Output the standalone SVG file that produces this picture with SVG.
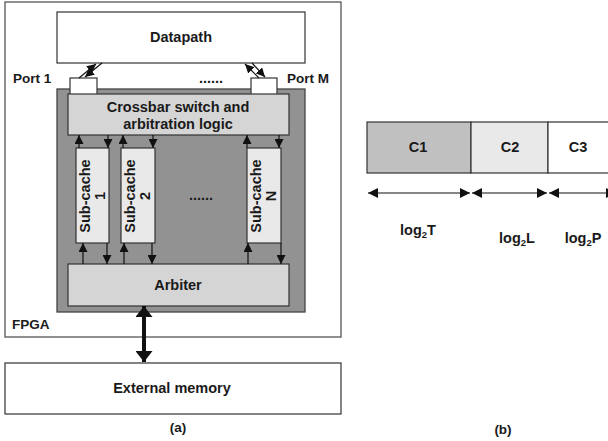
<svg xmlns="http://www.w3.org/2000/svg" width="608" height="441" viewBox="0 0 608 441">
<defs>
<marker id="ah" viewBox="0 0 10 10" refX="10" refY="5" markerWidth="9" markerHeight="9" markerUnits="userSpaceOnUse" orient="auto-start-reverse">
<path d="M0,0 L10,5 L0,10 z" fill="#111"/>
</marker>
<marker id="ah2" viewBox="0 0 10 10" refX="10" refY="5" markerWidth="10" markerHeight="10" markerUnits="userSpaceOnUse" orient="auto-start-reverse">
<path d="M0,0 L10,5 L0,10 z" fill="#111"/>
</marker>
<marker id="big" viewBox="0 0 10 10" refX="10" refY="5" markerWidth="11" markerHeight="17" markerUnits="userSpaceOnUse" orient="auto-start-reverse" preserveAspectRatio="none">
<path d="M0,0 L10,5 L0,10 z" fill="#111"/>
</marker>
<style>
text{font-family:"Liberation Sans",Arial,sans-serif;font-weight:bold;fill:#1a1a1a;}
.t14{font-size:14.5px;}
.t13{font-size:13.5px;}
.box{stroke:#333;stroke-width:1.2;}
.ln{stroke:#111;stroke-width:1.2;fill:none;}
</style>
</defs>

<g id="fpga">
<rect x="5" y="2" width="336" height="335" fill="#fff" stroke="#555" stroke-width="1.3"/>
<text class="t13" x="12" y="329">FPGA</text>
</g>

<g id="datapath">
<rect class="box" x="57" y="12" width="248" height="51" fill="#fff"/>
<text class="t14" x="181" y="42" text-anchor="middle">Datapath</text>
</g>

<g id="cachearray">
<rect x="57" y="89" width="248" height="223" fill="#929292" stroke="#444" stroke-width="1.3"/>
<text class="t14" x="201" y="200" text-anchor="middle">......</text>
</g>

<g id="port1">
<rect class="box" x="70" y="78" width="27" height="18" fill="#fff"/>
<text class="t13" x="13" y="83">Port 1</text>
</g>
<g id="portM">
<rect class="box" x="251" y="78" width="26" height="18" fill="#fff"/>
<text class="t13" x="287" y="83">Port M</text>
</g>
<g id="portdots">
<text class="t14" x="211" y="83" text-anchor="middle">......</text>
</g>

<g id="crossbar">
<rect class="box" x="68" y="94" width="221" height="41" fill="#d5d5d5"/>
<text class="t14" x="178" y="112" text-anchor="middle">Crossbar switch and</text>
<text class="t14" x="178" y="129" text-anchor="middle">arbitration logic</text>
</g>

<g id="subcache1">
<rect class="box" x="76" y="148" width="33" height="95" fill="#e9e9e9"/>
<text class="t14" transform="translate(92.5,196) rotate(-90)" text-anchor="middle" y="-3">Sub-cache</text>
<text class="t14" transform="translate(92.5,196) rotate(-90)" text-anchor="middle" y="12">1</text>
</g>
<g id="subcache2">
<rect class="box" x="121" y="148" width="34" height="95" fill="#e9e9e9"/>
<text class="t14" transform="translate(138,196) rotate(-90)" text-anchor="middle" y="-3">Sub-cache</text>
<text class="t14" transform="translate(138,196) rotate(-90)" text-anchor="middle" y="12">2</text>
</g>
<g id="subcacheN">
<rect class="box" x="247" y="148" width="34" height="95" fill="#e9e9e9"/>
<text class="t14" transform="translate(264,196) rotate(-90)" text-anchor="middle" y="-3">Sub-cache</text>
<text class="t14" transform="translate(264,196) rotate(-90)" text-anchor="middle" y="12">N</text>
</g>

<g id="arbiter">
<rect class="box" x="68" y="264" width="221" height="42" fill="#d5d5d5"/>
<text class="t14" x="178" y="290" text-anchor="middle">Arbiter</text>
</g>

<g id="extmem">
<rect class="box" x="5" y="363" width="336" height="51" fill="#fff"/>
<text class="t14" x="172" y="393" text-anchor="middle">External memory</text>
</g>

<g id="captionA"><text class="t13" x="178" y="432" text-anchor="middle">(a)</text></g>
<g id="captionB"><text class="t13" x="503" y="434" text-anchor="middle">(b)</text></g>

<g id="addr">
<rect x="367" y="122" width="104" height="51" fill="#c0c0c0" stroke="#333" stroke-width="1.2"/>
<rect x="471" y="122" width="77" height="51" fill="#e9e9e9" stroke="#333" stroke-width="1.2"/>
<rect x="548" y="122" width="70" height="51" fill="#fff" stroke="#333" stroke-width="1.2"/>
<text class="t14" x="418" y="152" text-anchor="middle">C1</text>
<text class="t14" x="510" y="152" text-anchor="middle">C2</text>
<text class="t14" x="578" y="152" text-anchor="middle">C3</text>
<text class="t14" x="418" y="235" text-anchor="middle">log<tspan font-size="9.5" dy="3">2</tspan><tspan dy="-3">T</tspan></text>
<text class="t14" x="517" y="243" text-anchor="middle">log<tspan font-size="9.5" dy="3">2</tspan><tspan dy="-3">L</tspan></text>
<text class="t14" x="583" y="243" text-anchor="middle">log<tspan font-size="9.5" dy="3">2</tspan><tspan dy="-3">P</tspan></text>
</g>

<g id="connectors">
<line class="ln" x1="79" y1="78" x2="96" y2="64" marker-end="url(#ah)"/>
<line class="ln" x1="102" y1="63" x2="85" y2="77" marker-end="url(#ah)"/>
<line class="ln" x1="259" y1="78" x2="245" y2="64" marker-end="url(#ah)"/>
<line class="ln" x1="252" y1="63" x2="265" y2="77" marker-end="url(#ah)"/>
<line class="ln" x1="79" y1="148" x2="79" y2="135" marker-end="url(#ah)"/>
<line class="ln" x1="108" y1="135" x2="108" y2="148" marker-end="url(#ah)"/>
<line class="ln" x1="123" y1="148" x2="123" y2="135" marker-end="url(#ah)"/>
<line class="ln" x1="153" y1="135" x2="153" y2="148" marker-end="url(#ah)"/>
<line class="ln" x1="247" y1="148" x2="247" y2="135" marker-end="url(#ah)"/>
<line class="ln" x1="279" y1="135" x2="279" y2="148" marker-end="url(#ah)"/>
<line class="ln" x1="83" y1="264" x2="83" y2="243" marker-end="url(#ah)"/>
<line class="ln" x1="107" y1="243" x2="107" y2="264" marker-end="url(#ah)"/>
<line class="ln" x1="124" y1="264" x2="124" y2="243" marker-end="url(#ah)"/>
<line class="ln" x1="152" y1="243" x2="152" y2="264" marker-end="url(#ah)"/>
<line class="ln" x1="248" y1="264" x2="248" y2="243" marker-end="url(#ah)"/>
<line class="ln" x1="281" y1="243" x2="281" y2="264" marker-end="url(#ah)"/>
<line x1="144" y1="306" x2="144" y2="362" stroke="#111" stroke-width="4" marker-start="url(#big)" marker-end="url(#big)"/>
<line class="ln" x1="368" y1="193" x2="470" y2="193" marker-start="url(#ah2)" marker-end="url(#ah2)"/>
<line class="ln" x1="472" y1="193" x2="547" y2="193" marker-start="url(#ah2)" marker-end="url(#ah2)"/>
<line class="ln" x1="549" y1="193" x2="616" y2="193" marker-start="url(#ah2)" marker-end="url(#ah2)"/>
</g>
</svg>
